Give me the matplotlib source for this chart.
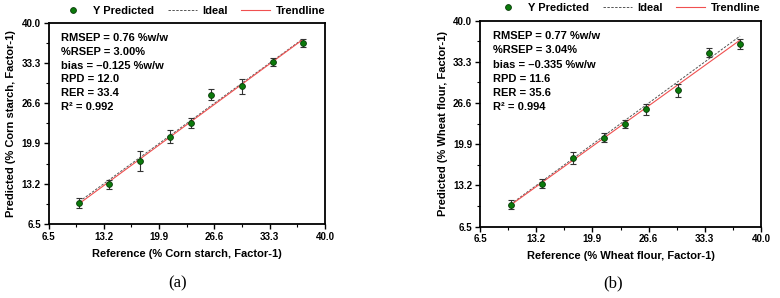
import matplotlib
matplotlib.use("Agg")
import matplotlib.pyplot as plt
import numpy as np
from matplotlib.lines import Line2D

plt.rcParams['font.family'] = ['Liberation Sans', 'DejaVu Sans']
plt.rcParams['font.weight'] = 'bold'

# Panel (a): Corn starch
ref_a = [10.25, 13.84, 17.60, 21.27, 23.73, 26.19, 29.99, 33.66, 37.29]
pred_a = [9.99, 13.10, 16.98, 21.03, 23.25, 28.02, 29.40, 33.46, 36.62]
err_a = [0.90, 0.75, 1.60, 1.10, 0.85, 0.90, 1.20, 0.65, 0.60]
stats_a = ["RMSEP = 0.76 %w/w", "%RSEP = 3.00%", "bias = \u20130.125 %w/w",
           "RPD = 12.0", "RER = 33.4", "R\u00b2 = 0.992"]

# Panel (b): Wheat flour
ref_b = [10.16, 13.85, 17.55, 21.33, 23.83, 26.29, 30.07, 33.77, 37.50]
pred_b = [10.08, 13.49, 17.72, 20.97, 23.19, 25.63, 28.67, 34.79, 36.26]
err_b = [0.75, 0.75, 1.00, 0.70, 0.70, 0.90, 1.00, 0.75, 0.80]
stats_b = ["RMSEP = 0.77 %w/w", "%RSEP = 3.04%", "bias = \u20130.335 %w/w",
           "RPD = 11.6", "RER = 35.6", "R\u00b2 = 0.994"]

ticks = [6.5, 13.2, 19.9, 26.6, 33.3, 40.0]
tick_labels = ["6.5", "13.2", "19.9", "26.6", "33.3", "40.0"]

fig = plt.figure(figsize=(7.8, 2.98), dpi=100)

panels = [
    dict(rect=[0.0622, 0.2483, 0.3545, 0.6755], ref=ref_a, pred=pred_a, err=err_a,
         stats=stats_a, xl="Reference (% Corn starch, Factor-1)",
         yl="Predicted (% Corn starch, Factor-1)", cap="(a)", capx=178 / 780,
         legx=192 / 780, legy=1 - 11 / 298),
    dict(rect=[0.6154, 0.2393, 0.3603, 0.6913], ref=ref_b, pred=pred_b, err=err_b,
         stats=stats_b, xl="Reference (% Wheat flour, Factor-1)",
         yl="Predicted (% Wheat flour, Factor-1)", cap="(b)", capx=613 / 780,
         legx=627 / 780, legy=1 - 8 / 298),
]

for p in panels:
    ax = fig.add_axes(p['rect'])
    x = np.array(p['ref'])
    y = np.array(p['pred'])
    xs = np.array([x.min(), x.max()])
    ax.plot(xs, xs, ls=(0, (2.5, 1.5)), color='#555555', lw=0.7, zorder=2)
    k, b = np.polyfit(x, y, 1)
    ax.plot(xs, k * xs + b, color='#f05050', lw=0.8, zorder=3)
    ax.errorbar(x, y, yerr=p['err'], fmt='none', ecolor='#333333', elinewidth=0.8,
                capsize=2.2, capthick=0.8, zorder=4)
    ax.plot(x, y, 'o', ms=4.2, mfc='#0b7a0b', mec='#0a3a0a', mew=0.6, zorder=5)
    ax.set_xlim(6.5, 40.0)
    ax.set_ylim(6.5, 40.0)
    ax.set_xticks(ticks)
    ax.set_yticks(ticks)
    ax.set_xticklabels(tick_labels, fontsize=7, fontweight='bold')
    ax.set_yticklabels(tick_labels, fontsize=7, fontweight='bold')
    minor = [(ticks[i] + ticks[i + 1]) / 2 for i in range(len(ticks) - 1)]
    ax.set_xticks(minor, minor=True)
    ax.set_yticks(minor, minor=True)
    ax.tick_params(which='major', direction='out', length=3.5, width=1.0, pad=2)
    ax.tick_params(which='minor', direction='out', length=2, width=0.8)
    for s in ax.spines.values():
        s.set_linewidth(1.3)
    ax.set_xlabel(p['xl'], fontsize=8, fontweight='bold', labelpad=5)
    ax.set_ylabel(p['yl'], fontsize=8, fontweight='bold', labelpad=4)
    for i, t in enumerate(p['stats']):
        ax.text(0.045, 0.925 - i * 0.069, t, transform=ax.transAxes, fontsize=8,
                fontweight='bold', va='center', ha='left')
    handles = [
        Line2D([], [], ls='none', marker='o', ms=4.2, mfc='#0b7a0b', mec='#0a3a0a', mew=0.6),
        Line2D([], [], ls=(0, (2.5, 1.5)), color='#555555', lw=0.7),
        Line2D([], [], color='#f05050', lw=0.8),
    ]
    ax.legend(handles, ["Y Predicted", "Ideal", "Trendline"], loc='center',
              bbox_to_anchor=(p['legx'], p['legy']), bbox_transform=fig.transFigure,
              ncol=3, frameon=False, prop=dict(size=8, weight='bold'),
              handlelength=2.6, columnspacing=1.2, handletextpad=0.5, borderpad=0)
    fig.text(p['capx'], 1 - 283 / 298, p['cap'], fontsize=12,
             family=['Liberation Serif', 'DejaVu Serif'], fontweight='normal',
             ha='center', va='center')

fig.savefig("out.png", dpi=100)
